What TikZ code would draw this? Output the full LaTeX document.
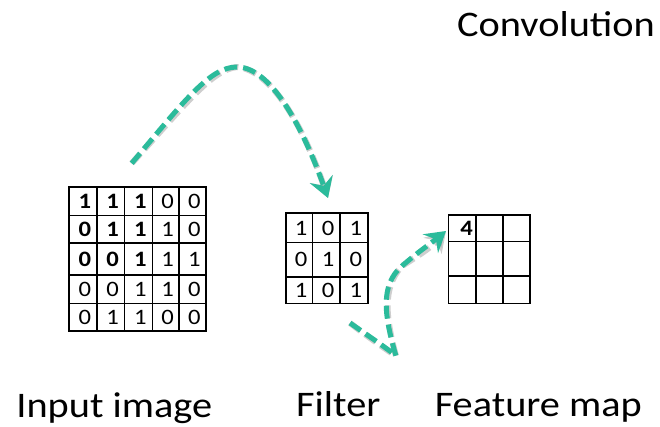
\documentclass[tikz,border=0pt]{standalone}
\usepackage{fontspec}
\setmainfont{Carlito}[FakeStretch=1.12]
\usetikzlibrary{arrows.meta}
\definecolor{flowteal}{RGB}{43,187,155}

\tikzset{
  cell/.style={draw=black, line width=1.6pt, inner sep=0pt, outer sep=0pt,
    font=\fontsize{22}{22}\selectfont},
  bigtext/.style={anchor=base, inner sep=0pt, font=\fontsize{36}{36}\selectfont},
  flow/.style={draw=flowteal, line width=5pt, dash pattern=on 13pt off 6pt,
    line join=round, -{Stealth[length=20pt,width=24pt,inset=7pt]}},
  flowshadow/.style={flow, draw=black!55, opacity=0.35, line width=6pt,
    shift={(1.8,2.8)}},
}

% one matrix cell between column edges #2,#3 and row edges #4,#5
\newcommand\gridcell[7]{%
  \node[cell, minimum width={#3-#2}, minimum height={#5-#4}]
    (#1) at ({(#2+#3)/2},{(#4+#5)/2}) {\kern#7#6};}

\begin{document}
\begin{tikzpicture}[x=1pt,y=-1pt]
\useasboundingbox[fill=white] (0,0) rectangle (660,427);

% input image 5x5
\def\incols{{69,96.7,124.3,152.3,179,205.7}}
\def\inrows{{187.3,215.7,243.3,275,303.3,330.7}}
\foreach [count=\r from 0] \vals in {
    {{\bfseries 1},{\bfseries 1},{\bfseries 1},0,0},
    {{\bfseries 0},{\bfseries 1},{\bfseries 1},1,0},
    {{\bfseries 0},{\bfseries 0},{\bfseries 1},1,1},
    {0,0,1,1,0},
    {0,1,1,0,0}} {
  \foreach [count=\c from 0] \v in \vals {
    \pgfmathsetmacro\xa{\incols[\c]}
    \pgfmathsetmacro\xb{\incols[\c+1]}
    \pgfmathsetmacro\ya{\inrows[\r]}
    \pgfmathsetmacro\yb{\inrows[\r+1]}
    \gridcell{in-\r-\c}{\xa}{\xb}{\ya}{\yb}{\v}{4pt}
  }
}

% filter 3x3
\def\fcols{{285.7,312.3,340,367.7}}
\def\frows{{213.3,242.7,276.7,303.3}}
\foreach [count=\r from 0] \vals in {{1,0,1},{0,1,0},{1,0,1}} {
  \foreach [count=\c from 0] \v in \vals {
    \pgfmathsetmacro\xa{\fcols[\c]}
    \pgfmathsetmacro\xb{\fcols[\c+1]}
    \pgfmathsetmacro\ya{\frows[\r]}
    \pgfmathsetmacro\yb{\frows[\r+1]}
    \gridcell{flt-\r-\c}{\xa}{\xb}{\ya}{\yb}{\v}{4pt}
  }
}

% feature map 3x3
\def\mcols{{448.3,475.7,502.7,530}}
\def\mrows{{215,241.7,276,303.3}}
\foreach [count=\r from 0] \vals in {{{\bfseries 4},{},{}},{{},{},{}},{{},{},{}}} {
  \foreach [count=\c from 0] \v in \vals {
    \pgfmathsetmacro\xa{\mcols[\c]}
    \pgfmathsetmacro\xb{\mcols[\c+1]}
    \pgfmathsetmacro\ya{\mrows[\r]}
    \pgfmathsetmacro\yb{\mrows[\r+1]}
    \gridcell{fm-\r-\c}{\xa}{\xb}{\ya}{\yb}{\v}{9pt}
  }
}

% captions
\node[bigtext] (title) at (556,36.7) {Convolution};
\node[bigtext] (cap-in) at (114.3,417.7) {Input image};
\node[bigtext] (cap-flt) at (338.3,416.7) {Filter};
\node[bigtext] (cap-fm) at (538.3,416.7) {Feature map};

% sliding arrows
\coordinate (a1s) at (131.7,163.3);
\coordinate (a1p) at (237,67);
\coordinate (a1e) at (328,198);
\coordinate (a2s) at (350,323);
\coordinate (a2c) at (396,356);
\coordinate (a2m) at (402,266);
\coordinate (a2e) at (446,231);

\foreach \st in {flowshadow,flow} {
  \draw[\st] (a1s) .. controls (185,100) and (210,67) .. (a1p)
                   .. controls (270,67) and (302,125) .. (a1e);
  \draw[\st] (a2s) .. controls (370,337) and (388,349) .. (a2c)
                   .. controls (384,315) and (380,285) .. (a2m)
                   .. controls (418,252) and (430,244) .. (a2e);
}
\end{tikzpicture}
\end{document}
